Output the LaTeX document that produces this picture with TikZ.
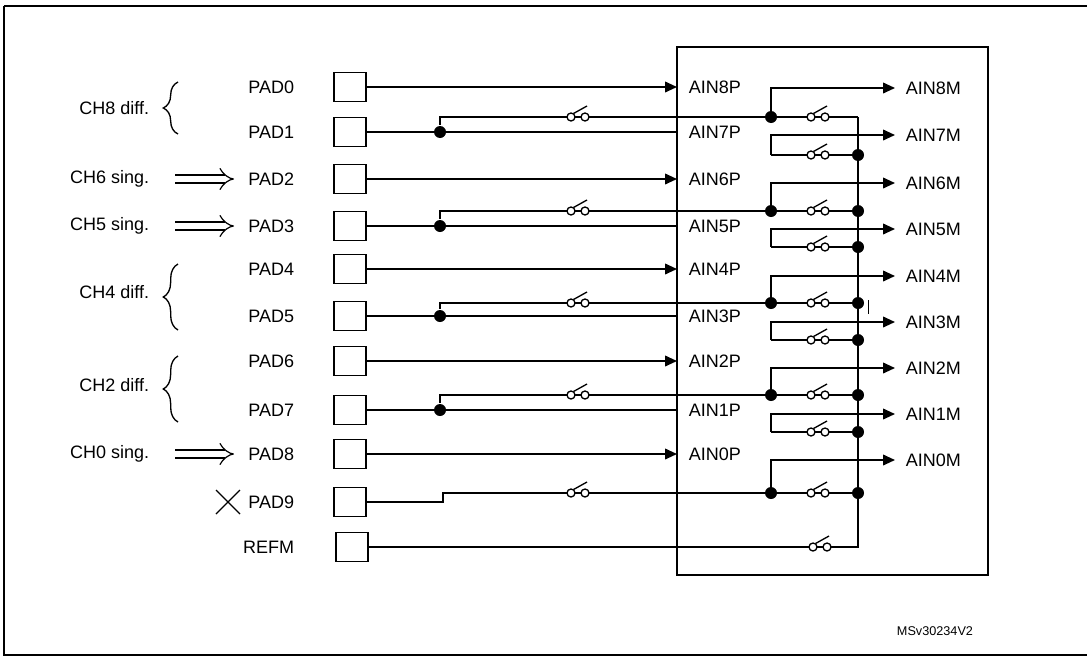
\documentclass[tikz,border=0pt]{standalone}
\usepackage{fontspec}
\setmainfont{Liberation Sans}
\usetikzlibrary{arrows,arrows.meta,decorations.pathreplacing}
\begin{document}
\begin{tikzpicture}[x=0.75pt,y=-0.75pt,line width=1.3pt,
  lbl/.style={font=\fontsize{13.5}{15}\selectfont,inner sep=0pt},
  pad/.style={draw,line width=0.9pt,minimum width=24pt,minimum height=22pt,inner sep=0pt},
  dot/.style={circle,fill,inner sep=0pt,minimum size=9pt},
  arr/.style={-{Triangle[length=9pt,width=8pt]}},
  dbl/.style={double,double distance=5pt,line width=0.9pt,-Implies},
  brc/.style={decorate,decoration={brace,amplitude=11pt},line width=1pt},
  sw/.pic={\draw[line width=1pt,fill=white] (-7,0) circle (4) (7,0) circle (4);
           \draw[line width=1pt] (-4.5,-3.5) -- (9,-11);}]
\useasboundingbox (0,0) rectangle (1087,657);
\draw[line width=1.5pt] (4,6) -- (4,655) -- (1100,655) (4,6) -- (1100,6);
\draw[line width=1.5pt] (677,47) rectangle (988,575);
% pads
\foreach \n/\y in {0/87,1/132,2/179,3/226,4/269,5/316,6/361,7/410,8/454,9/502}{
  \node[pad] (p\n) at (350,\y) {};
  \node[lbl,anchor=east] at (295,\y) {PAD\n};}
\node[pad] (pr) at (352,547) {};
\node[lbl,anchor=east] at (295,547) {REFM};
% P labels
\foreach \n/\y in {8/87,7/132,6/179,5/226,4/269,3/316,2/361,1/410,0/454}{
  \node[lbl,anchor=west] (ap\n) at (688,\y) {AIN\n P};}
\foreach \n/\y in {8/88,7/135,6/183,5/229,4/276,3/322,2/368,1/414,0/460}{
  \node[lbl,anchor=west] (am\n) at (905,\y) {AIN\n M};}
% direct P lines
\foreach \n/\y in {0/87,2/179,4/269,6/361,8/454}{
  \draw[arr] (p\n.east) -- (677,\y);}
% odd pad lines
\foreach \n/\y/\u in {1/132/117,3/226/211,5/316/303,7/410/395}{
  \node[dot] (d\n) at (440,\y) {};
  \draw (p\n.east) -- (677,\y);
  \draw (d\n) -- (440,\u) -- (858,\u);
  \pic at (578,\u) {sw};}
\draw (p9.east) -- (443,502) -- (443,493) -- (858,493);
\pic at (578,493) {sw};
% right side: bus
\draw (858,117) -- (858,547) -- (pr.east);
\pic at (820,547) {sw};
\foreach \n/\u/\y in {8/117/88,6/211/183,4/303/276,2/395/368,0/493/460}{
  \node[dot] at (771,\u) {};
  \draw[arr] (771,\u) -- (771,\y) -- (895,\y);
  \pic at (818,\u) {sw};}
\foreach \u in {211,303,395,493}{\node[dot] at (858,\u) {};}
\foreach \y/\l in {135/155,229/247,322/340,414/432}{
  \draw[arr] (771,\l) -- (771,\y) -- (895,\y);
  \draw (771,\l) -- (858,\l);
  \node[dot] at (858,\l) {};
  \pic at (818,\l) {sw};}
\draw[line width=0.6pt] (868,300) -- (868,314);
% left labels
\node[lbl,anchor=east] at (150,108) {CH8 diff.};
\draw[brc] (178,134) -- (178,82);
\node[lbl,anchor=east] at (150,179) {CH6 sing.};
\draw[dbl] (175,179) -- (234,179);
\node[lbl,anchor=east] at (150,226) {CH5 sing.};
\draw[dbl] (175,226) -- (234,226);
\node[lbl,anchor=east] at (150,292) {CH4 diff.};
\draw[brc] (178,330) -- (178,264);
\node[lbl,anchor=east] at (150,385) {CH2 diff.};
\draw[brc] (178,422) -- (178,356);
\node[lbl,anchor=east] at (150,454) {CH0 sing.};
\draw[dbl] (175,454) -- (234,454);
\draw[line width=1pt] (216,490) -- (240,514) (216,514) -- (240,490);
\node[font=\fontsize{9.5}{11}\selectfont,inner sep=0pt] at (935,631) {MSv30234V2};
\end{tikzpicture}
\end{document}
